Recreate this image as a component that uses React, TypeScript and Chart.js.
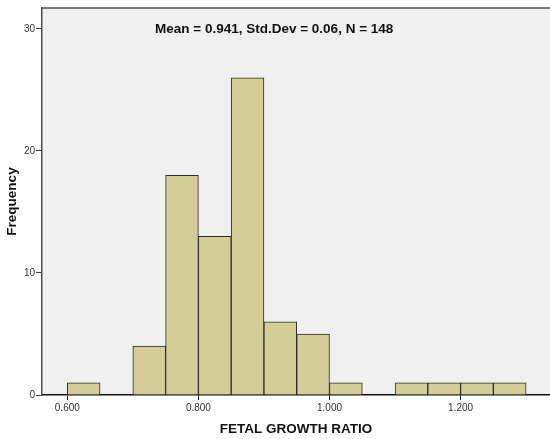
import React, { useEffect, useRef } from "react";
import { Chart, registerables } from "chart.js";

Chart.register(...registerables);

const binCenters = [0.625, 0.675, 0.725, 0.775, 0.825, 0.875, 0.925, 0.975, 1.025, 1.075, 1.125, 1.175, 1.225, 1.275];
const frequencies = [1, 0, 4, 18, 13, 26, 6, 5, 1, 0, 1, 1, 1, 1];
const xTickValues = [0.6, 0.8, 1.0, 1.2];
const yTickValues = [0, 10, 20, 30];
const statsText = "Mean = 0.941, Std.Dev = 0.06, N = 148";
const xTitle = "FETAL GROWTH RATIO";
const yTitle = "Frequency";

const FONT = "'Liberation Sans', Arial, sans-serif";

const framePlugin = {
  id: "frame",
  beforeDraw(chart: any) {
    const { ctx, chartArea } = chart;
    ctx.save();
    ctx.fillStyle = "#f0f0f0";
    ctx.fillRect(chartArea.left, chartArea.top, chartArea.right - chartArea.left, chartArea.bottom - chartArea.top);
    ctx.restore();
  },
  afterDraw(chart: any) {
    const { ctx, chartArea } = chart;
    ctx.save();
    ctx.strokeStyle = "#505050";
    ctx.lineWidth = 1.5;
    ctx.beginPath();
    ctx.moveTo(chartArea.left, chartArea.top);
    ctx.lineTo(chartArea.right, chartArea.top);
    ctx.stroke();
    ctx.fillStyle = "#111";
    ctx.font = `bold 13.5px ${FONT}`;
    ctx.textAlign = "center";
    ctx.textBaseline = "middle";
    const cx = chartArea.left + (chartArea.right - chartArea.left) * 0.457;
    ctx.fillText(statsText, cx, chartArea.top + 21);
    ctx.restore();
  },
};

export default function App() {
  const ref = useRef<HTMLCanvasElement | null>(null);
  useEffect(() => {
    if (!ref.current) return;
    const chart = new Chart(ref.current, {
      type: "bar",
      data: {
        datasets: [
          {
            data: binCenters.map((x, i) => ({ x, y: frequencies[i] })),
            backgroundColor: "#d3ce97",
            borderColor: "#2a2a2a",
            borderWidth: 1,
            barPercentage: 1,
            categoryPercentage: 1,
          },
        ],
      },
      options: {
        responsive: false,
        animation: false,
        layout: { padding: { top: 8, right: 0, left: 0, bottom: 0 } },
        plugins: { legend: { display: false }, tooltip: { enabled: false } },
        scales: {
          x: {
            type: "linear",
            offset: false,
            min: 0.5614,
            max: 1.3364,
            afterBuildTicks: (s: any) => {
              s.ticks = xTickValues.map((v) => ({ value: v }));
            },
            afterFit: (s: any) => {
              s.height = 44;
            },
            grid: { display: true, offset: false, drawOnChartArea: false, drawTicks: true, tickLength: 5, color: "#222" },
            border: { display: true, color: "#111", width: 1.5 },
            ticks: {
              color: "#333",
              font: { family: FONT, size: 10 },
              padding: 2,
              maxRotation: 0,
              callback: (v: any) => Number(v).toFixed(3),
            },
            title: {
              display: true,
              text: xTitle,
              color: "#111",
              font: { family: FONT, size: 13.5, weight: "bold" },
              padding: { top: 0, bottom: 2 },
            },
          },
          y: {
            min: 0,
            max: 31.72,
            afterBuildTicks: (s: any) => {
              s.ticks = yTickValues.map((v) => ({ value: v }));
            },
            afterFit: (s: any) => {
              s.width = 42;
            },
            grid: { display: true, drawOnChartArea: false, drawTicks: true, tickLength: 6, color: "#444" },
            border: { display: true, color: "#505050", width: 1.5 },
            ticks: {
              color: "#333",
              font: { family: FONT, size: 10 },
              padding: 1,
            },
            title: {
              display: true,
              text: yTitle,
              color: "#111",
              font: { family: FONT, size: 13.5, weight: "bold" },
              padding: { top: 4, bottom: 0 },
            },
          },
        },
      },
      plugins: [framePlugin],
    } as any);
    return () => chart.destroy();
  }, []);
  return (
    <div style={{ position: "absolute", left: 0, top: 0, width: 550, height: 439, background: "#fff" }}>
      <canvas ref={ref} width={550} height={439} />
    </div>
  );
}
